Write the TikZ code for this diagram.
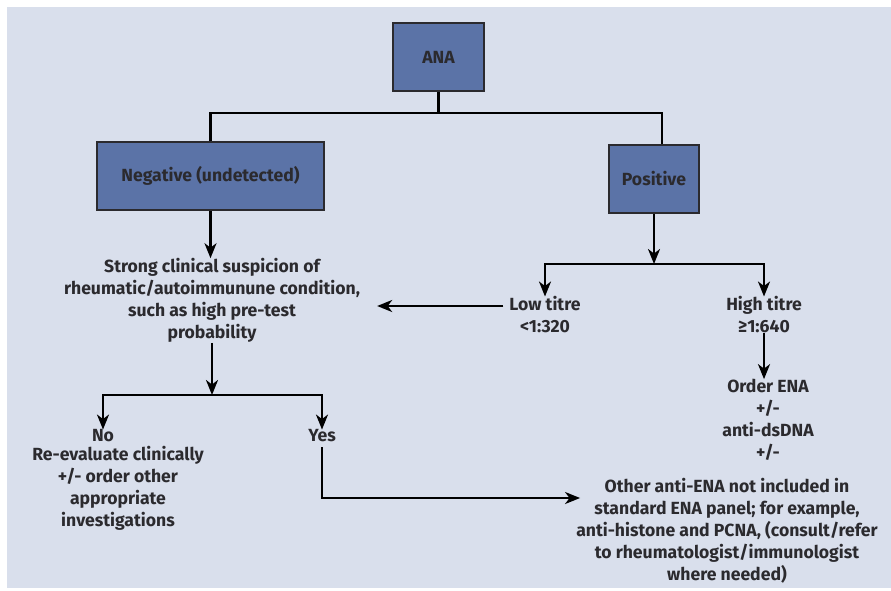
\documentclass[tikz,border=0pt]{standalone}
\usepackage{fontspec}
\setmainfont{Fira Sans}
\usetikzlibrary{arrows.meta}
\definecolor{bgblue}{HTML}{D9DFEC}
\definecolor{boxblue}{HTML}{5B73A7}
\definecolor{inkgrey}{HTML}{2B2A2E}
\tikzset{
  box/.style={draw=inkgrey, line width=2pt, fill=boxblue, text=inkgrey,
    font=\bfseries\fontsize{17.6}{22}\selectfont, inner sep=0pt},
  txt/.style={align=center, text=inkgrey,
    font=\bfseries\fontsize{17.6}{22}\selectfont, inner sep=0pt},
  link/.style={line width=2.3pt, black},
  arr/.style={link, -{Stealth[length=15pt,width=12pt,inset=4.5pt]}},
}
\begin{document}
\begin{tikzpicture}[x=1pt,y=-1pt]
    \useasboundingbox (0,0) rectangle (891,590);
    \fill[bgblue] (7,7) rectangle (891,588);
    % Boxes
    \node[box, minimum width=91pt, minimum height=68pt] (ana) at (438.5,57) {ANA};
    \node[box, minimum width=227pt, minimum height=68pt] (neg) at (210.5,176) {Negative (undetected)};
    \node[box, minimum width=90pt, minimum height=68pt] (pos) at (654,179) {Positive};
    % Texts
    \node[txt] (strong) at (212,300.5) {Strong clinical suspicion of\\rheumatic/autoimmunune condition,\\such as high pre-test\\probability};
    \node[txt] (low) at (545,315) {Low titre\\<1:320};
    \node[txt] (high) at (764,315) {High titre\\≥1:640};
    \node[txt] (ena) at (768,420) {Order ENA\\+/-\\anti-dsDNA\\+/-};
    \node[txt] (other) at (727,530.5) {Other anti-ENA not included in\\standard ENA panel; for example,\\anti-histone and PCNA, (consult/refer\\to rheumatologist/immunologist\\where needed)};
    \node[txt] (no) at (103,436) {No};
    \node[txt] (reeval) at (118,488.5) {Re-evaluate clinically\\+/- order other\\appropriate\\investigations};
    \node[txt] (yes) at (322,436) {Yes};
    % ANA split
    \coordinate (topsplit) at (438.5,113);
    \draw[link] (ana.south) -- (topsplit);
    \draw[link] (neg.north) |- (topsplit) -| ([xshift=8pt]pos.north);
    % Negative branch
    \draw[arr] (neg.south) -- (neg.south |- strong.north);
    \coordinate (nysplit) at (212,395);
    \draw[arr] (strong.south) -- (nysplit);
    \draw[arr] (nysplit) -| (no.north);
    \draw[arr] (nysplit) -| (yes.north);
    \draw[arr, shorten <=5pt] (yes.south) |- ([xshift=4pt,yshift=32.5pt]other.west);
    % Positive branch
    \coordinate (possplit) at (654,264);
    \draw[arr] (pos.south) -- (possplit);
    \draw[arr] (possplit) -| (low.north);
    \draw[arr] (possplit) -| (high.north);
    \draw[arr, shorten >=17pt] ([xshift=-6pt,yshift=9pt]low.west) -- ([yshift=9pt]low.west -| strong.east);
    \draw[arr] (high.south) -- (high.south |- ena.north);
\end{tikzpicture}
\end{document}
